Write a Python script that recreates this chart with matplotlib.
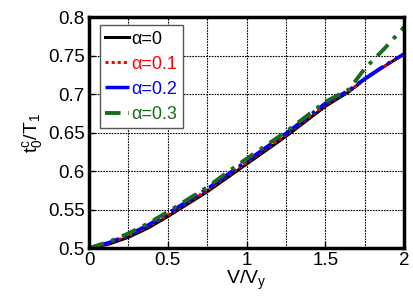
import numpy as np
import matplotlib
matplotlib.use('Agg')
import matplotlib.pyplot as plt

plt.rcParams['font.family'] = ['Liberation Sans', 'DejaVu Sans']
plt.rcParams['mathtext.fontset'] = 'custom'
plt.rcParams['mathtext.rm'] = 'Liberation Sans'

# V/Vy values and curves
v = [0.0, 0.125, 0.25, 0.375, 0.5, 0.625, 0.75, 0.875, 1.0, 1.25, 1.5, 1.65, 1.75, 1.875, 2.0]
a0 = [0.500, 0.505, 0.514, 0.526, 0.541, 0.557, 0.573, 0.591, 0.609, 0.645, 0.684, 0.703, 0.719, 0.736, 0.752]
a1 = [0.500, 0.506, 0.516, 0.528, 0.543, 0.559, 0.575, 0.593, 0.611, 0.647, 0.686, 0.704, 0.719, 0.736, 0.752]
a2 = [0.500, 0.507, 0.517, 0.530, 0.545, 0.561, 0.577, 0.595, 0.613, 0.649, 0.688, 0.705, 0.720, 0.737, 0.752]
a3 = [0.500, 0.508, 0.519, 0.532, 0.547, 0.563, 0.579, 0.598, 0.616, 0.651, 0.690, 0.706, 0.733, 0.759, 0.787]

labels = ['α=0', 'α=0.1', 'α=0.2', 'α=0.3']
colors = ['black', 'red', 'blue', '#1a6b1a']

fig = plt.figure(figsize=(4.13, 3.04), dpi=100)
ax = fig.add_axes([0.2155, 0.184, 0.763, 0.760])

ax.plot(v, a0, color=colors[0], lw=2.2, ls='-', label=labels[0])
ax.plot(v, a1, color=colors[1], lw=2.2, ls=(0, (1, 1)), label=labels[1])
ax.plot(v, a2, color=colors[2], lw=2.5, ls=(0, (9, 1.5, 1, 1.5)), label=labels[2])
ax.plot(v, a3, color=colors[3], lw=2.8, ls=(0, (4, 2, 1, 2)), label=labels[3])

ax.set_xlim(0, 2)
ax.set_ylim(0.5, 0.8)
ax.set_xticks([0, 0.5, 1, 1.5, 2])
ax.set_xticklabels(['0', '0.5', '1', '1.5', '2'])
ax.set_xticks(np.arange(0, 2.01, 0.25), minor=True)
ax.set_yticks([0.5, 0.55, 0.6, 0.65, 0.7, 0.75, 0.8])
ax.set_yticklabels(['0.5', '0.55', '0.6', '0.65', '0.7', '0.75', '0.8'])

ax.grid(True, which='both', color='black', ls=(0, (1.5, 1)), lw=0.8)
ax.tick_params(which='both', direction='in', labelsize=13.5, length=4, width=1, pad=3)
ax.tick_params(which='minor', length=0)
for s in ax.spines.values():
    s.set_linewidth(2.5)

ax.set_xlabel(r'$\mathregular{V/V_y}$', fontsize=14, labelpad=0)
ax.set_ylabel(r'$\mathregular{t_0^c/T_1}$', fontsize=14, labelpad=2)

leg = ax.legend(loc='upper left', bbox_to_anchor=(0.035, 0.965), fontsize=13,
                handlelength=1.3, handletextpad=0.15, labelspacing=0.45,
                borderpad=0.3, borderaxespad=0, fancybox=False, framealpha=1)
leg.get_frame().set_edgecolor('#555555')
leg.get_frame().set_linewidth(1)
for t, c in zip(leg.get_texts(), colors):
    t.set_color(c)

fig.savefig('out.png', dpi=100)
